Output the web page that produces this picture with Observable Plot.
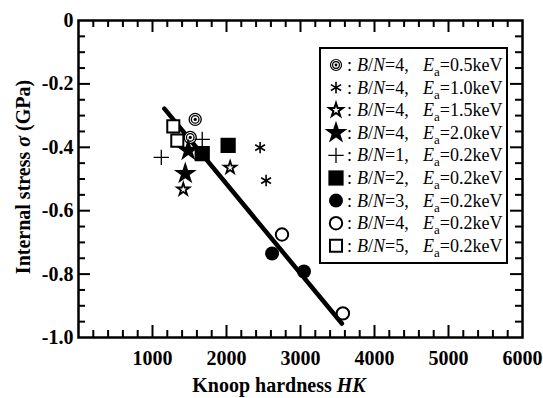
<!DOCTYPE html>
<html><head><meta charset="utf-8">
<script src="https://cdn.jsdelivr.net/npm/d3@7"></script>
<script src="https://cdn.jsdelivr.net/npm/@observablehq/plot@0.6"></script>
<style>
body{margin:0;background:#fff;}
#wrap{position:relative;width:543px;height:398px;overflow:hidden;}
#wrap svg{position:absolute;left:0;top:0;}
</style></head><body><div id="wrap"></div>
<script>
// ---- data (Knoop hardness HK, internal stress sigma in GPa) ----
const bn4_05_hk = [1577, 1510];  const bn4_05_s = [-0.312, -0.369];
const bn4_10_hk = [2454, 2535];  const bn4_10_s = [-0.401, -0.505];
const bn4_15_hk = [2049, 1416];  const bn4_15_s = [-0.464, -0.533];
const bn4_20_hk = [1483, 1443];  const bn4_20_s = [-0.410, -0.483];
const bn1_hk = [1119, 1672];     const bn1_s = [-0.432, -0.375];
const bn2_hk = [2022, 1672];     const bn2_s = [-0.394, -0.420];
const bn3_hk = [2616, 3047];     const bn3_s = [-0.735, -0.792];
const bn4_hk = [2750, 3573];     const bn4_s = [-0.675, -0.924];
const bn5_hk = [1281, 1335];     const bn5_s = [-0.334, -0.379];
const fit_hk = [1160, 3559];     const fit_s = [-0.278, -0.956];

const legendBN = ["4", "4", "4", "4", "1", "2", "3", "4", "5"];
const legendEa = ["0.5", "1.0", "1.5", "2.0", "0.2", "0.2", "0.2", "0.2", "0.2"];

const xLabelTicks = [1000, 2000, 3000, 4000, 5000, 6000];
const yLabelTicks = [0, -0.2, -0.4, -0.6, -0.8, -1.0];
const xMajor = [1000, 2000, 3000, 4000, 5000];
const xMinor = d3.range(200, 6000, 200).filter(v => v % 1000 !== 0);
const yMajor = [-0.2, -0.4, -0.6, -0.8];
const yMinor = d3.range(1, 20).map(i => -i * 0.05).filter((v, i) => (i + 1) % 4 !== 0);

const rows = (hk, s) => hk.map((h, i) => ({hk: h, s: s[i]}));

const W = 543, H = 398, mL = 78, mR = 21, mT = 20, mB = 61;
const fW = W - mL - mR, fH = H - mT - mB;
const maj = 12, mnr = 7;
const font = '"Liberation Serif","Times New Roman",serif';

const tickMarks = (vals, len, sw) => [
  Plot.tickX(vals, {x: d => d, insetTop: fH - len, strokeWidth: sw}),
  Plot.tickX(vals, {x: d => d, insetBottom: fH - len, strokeWidth: sw})
];
const tickMarksY = (vals, len, sw) => [
  Plot.tickY(vals, {y: d => d, insetRight: fW - len, strokeWidth: sw}),
  Plot.tickY(vals, {y: d => d, insetLeft: fW - len, strokeWidth: sw})
];
const dotOpt = {x: "hk", y: "s"};

const plot = Plot.plot({
  width: W, height: H,
  marginLeft: mL, marginRight: mR, marginTop: mT, marginBottom: mB,
  x: {domain: [0, 6000]},
  y: {domain: [-1, 0]},
  style: {fontFamily: font, background: "#fff", color: "#000"},
  marks: [
    ...tickMarks(xMinor, mnr, 2),
    ...tickMarks(xMajor, maj, 2),
    ...tickMarksY(yMinor, mnr, 2),
    ...tickMarksY(yMajor, maj, 2),
    Plot.axisX(xLabelTicks, {tickSize: 0, tickPadding: 13, fontSize: 20, fontWeight: "bold", label: null, tickFormat: d => String(d)}),
    Plot.axisY(yLabelTicks, {tickSize: 0, tickPadding: 5, fontSize: 20, fontWeight: "bold", label: null,
      tickFormat: d => d === 0 ? "0" : "-" + Math.abs(d).toFixed(1)}),
    Plot.frame({strokeWidth: 2.5}),
    Plot.line(rows(fit_hk, fit_s), {x: "hk", y: "s", strokeWidth: 4.5}),
    // B/N=4, Ea=0.5 : concentric circles
    Plot.dot(rows(bn4_05_hk, bn4_05_s), {...dotOpt, r: 6, fill: "#fff", stroke: "#000", strokeWidth: 1.3}),
    Plot.dot(rows(bn4_05_hk, bn4_05_s), {...dotOpt, r: 3.8, fill: "none", stroke: "#000", strokeWidth: 1.3}),
    Plot.dot(rows(bn4_05_hk, bn4_05_s), {...dotOpt, r: 1.6, fill: "#000", stroke: "none"}),
    // Ea=1.0 : asterisk
    Plot.dot(rows(bn4_10_hk, bn4_10_s), {...dotOpt, symbol: "asterisk", r: 5.4, stroke: "#000", strokeWidth: 1.6}),
    // Ea=1.5 : open star
    Plot.dot(rows(bn4_15_hk, bn4_15_s), {...dotOpt, symbol: "star", r: 5.6, fill: "#000", stroke: "none"}),
    Plot.dot(rows(bn4_15_hk, bn4_15_s), {...dotOpt, symbol: "star", r: 2.1, fill: "#fff", stroke: "none"}),
    // Ea=2.0 : filled star
    Plot.dot(rows(bn4_20_hk, bn4_20_s), {...dotOpt, symbol: "star", r: 7.2, fill: "#000", stroke: "none"}),
    // B/N=1 : plus
    Plot.dot(rows(bn1_hk, bn1_s), {...dotOpt, symbol: "plus", r: 5, stroke: "#000", strokeWidth: 1.3}),
    // B/N=2 : filled square
    Plot.dot(rows(bn2_hk, bn2_s), {...dotOpt, symbol: "square", r: 8.6, fill: "#000", stroke: "none"}),
    // B/N=3 : filled circle
    Plot.dot(rows(bn3_hk, bn3_s), {...dotOpt, r: 7, fill: "#000", stroke: "none"}),
    // B/N=4 : open circle
    Plot.dot(rows(bn4_hk, bn4_s), {...dotOpt, r: 6.2, fill: "#fff", stroke: "#000", strokeWidth: 2}),
    // B/N=5 : open square
    Plot.dot(rows(bn5_hk, bn5_s), {...dotOpt, symbol: "square", r: 6.8, fill: "#fff", stroke: "#000", strokeWidth: 2})
  ]
});
document.getElementById("wrap").appendChild(plot);

// ---- axis titles ----
const svg = d3.select(plot);
const xt = svg.append("text").attr("x", 279).attr("y", 392).attr("text-anchor", "middle")
  .attr("font-family", font).attr("font-size", 20).attr("font-weight", "bold").attr("fill", "#000");
xt.append("tspan").text("Knoop hardness ");
xt.append("tspan").attr("font-style", "italic").text("HK");
const yt = svg.append("text").attr("transform", "translate(30,177) rotate(-90)").attr("text-anchor", "middle")
  .attr("font-family", font).attr("font-size", 20).attr("font-weight", "bold").attr("fill", "#000");
yt.append("tspan").text("Internal stress ");
yt.append("tspan").attr("font-style", "italic").text("σ");
yt.append("tspan").text(" (GPa)");

// ---- legend ----
const lg = d3.select("#wrap").append("svg").attr("width", W).attr("height", H)
  .style("position", "absolute").style("left", "0").style("top", "0");
lg.append("rect").attr("x", 320).attr("y", 48).attr("width", 187).attr("height", 215)
  .attr("fill", "#fff").attr("stroke", "#000").attr("stroke-width", 2);
const sym = (type, r) => d3.symbol(type, Math.PI * r * r)();
const drawSym = [
  g => { g.append("circle").attr("r", 5.5).attr("fill", "#fff").attr("stroke", "#000").attr("stroke-width", 1.2);
         g.append("circle").attr("r", 3.4).attr("fill", "none").attr("stroke", "#000").attr("stroke-width", 1.2);
         g.append("circle").attr("r", 1.4).attr("fill", "#000"); },
  g => g.append("path").attr("d", sym(d3.symbolAsterisk, 5.6)).attr("stroke", "#000").attr("stroke-width", 1.6).attr("fill", "none"),
  g => { g.append("path").attr("d", sym(d3.symbolStar, 6.2)).attr("fill", "#000");
         g.append("path").attr("d", sym(d3.symbolStar, 2.3)).attr("fill", "#fff"); },
  g => g.append("path").attr("d", sym(d3.symbolStar, 7.2)).attr("fill", "#000"),
  g => g.append("path").attr("d", sym(d3.symbolPlus, 5)).attr("stroke", "#000").attr("stroke-width", 1.3).attr("fill", "none"),
  g => g.append("path").attr("d", sym(d3.symbolSquare, 8.6)).attr("fill", "#000"),
  g => g.append("circle").attr("r", 7).attr("fill", "#000"),
  g => g.append("circle").attr("r", 6.2).attr("fill", "#fff").attr("stroke", "#000").attr("stroke-width", 2),
  g => g.append("path").attr("d", sym(d3.symbolSquare, 6.8)).attr("fill", "#fff").attr("stroke", "#000").attr("stroke-width", 2)
];
legendBN.forEach((bn, i) => {
  const cy = 65 + i * 22.6;
  const g = lg.append("g").attr("transform", `translate(336,${cy})`);
  drawSym[i](g);
  const t = lg.append("text").attr("y", cy + 6).attr("font-family", font).attr("font-size", 18).attr("fill", "#000");
  t.append("tspan").attr("x", 347).text(":");
  t.append("tspan").attr("x", 357).attr("font-style", "italic").text("B");
  t.append("tspan").text("/");
  t.append("tspan").attr("font-style", "italic").text("N");
  t.append("tspan").text("=" + bn + ",");
  t.append("tspan").attr("x", 423).attr("font-style", "italic").text("E");
  t.append("tspan").attr("font-size", 13).attr("dy", 5).text("a");
  t.append("tspan").attr("dy", -5).text("=" + legendEa[i] + "keV");
});
</script></body></html>
